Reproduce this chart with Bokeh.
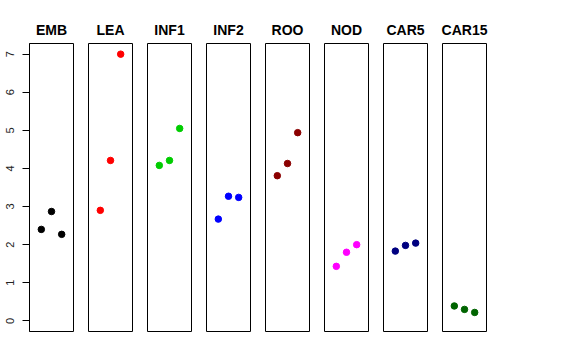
from bokeh.plotting import figure
from bokeh.layouts import row
from bokeh.models import Range1d, FixedTicker, ColumnDataSource
from bokeh.embed import file_html
from bokeh.resources import INLINE

groups = ["EMB", "LEA", "INF1", "INF2", "ROO", "NOD", "CAR5", "CAR15"]
colors = ["#000000", "#FF0000", "#00CD00", "#0000FF", "#8B0000", "#FF00FF", "#000080", "#006400"]
replicate = [1, 2, 3]
values = [
    [2.40, 2.87, 2.27],
    [2.90, 4.21, 7.00],
    [4.08, 4.21, 5.05],
    [2.67, 3.27, 3.24],
    [3.81, 4.13, 4.94],
    [1.43, 1.80, 2.00],
    [1.83, 1.98, 2.04],
    [0.39, 0.30, 0.22],
]
y_ticks = [0, 1, 2, 3, 4, 5, 6, 7]

FONT = "Liberation Sans"
figs = []
for i, (g, c, v) in enumerate(zip(groups, colors, values)):
    first = i == 0
    left = 29 if first else 7
    p = figure(width=left + 44 + 8, height=341, output_backend="svg", toolbar_location=None,
               x_range=Range1d(-0.16, 4.16), y_range=Range1d(-0.28, 7.28),
               min_border_left=left, min_border_right=8, min_border_top=43, min_border_bottom=10,
               title=g)
    p.title.align = "center"
    p.title.vertical_align = "middle"
    p.title.text_font = FONT
    p.title.text_font_size = "14px"
    p.title.text_font_style = "bold"
    p.title.text_color = "black"
    p.outline_line_color = "black"
    p.outline_line_width = 1
    p.xgrid.visible = False
    p.ygrid.visible = False
    p.xaxis.visible = False
    if first:
        ax = p.yaxis[0]
        ax.ticker = FixedTicker(ticks=y_ticks)
        ax.major_label_orientation = "vertical"
        ax.major_label_text_font = FONT
        ax.major_label_text_font_size = "11px"
        ax.major_label_text_color = "#222222"
        ax.major_label_standoff = 8
        ax.major_tick_out = 7
        ax.major_tick_in = 0
        ax.minor_tick_out = 0
        ax.minor_tick_in = 0
        ax.axis_line_color = "black"
        ax.major_tick_line_color = "black"
    else:
        p.yaxis.visible = False
    src = ColumnDataSource(dict(x=replicate, y=v))
    p.scatter("x", "y", source=src, size=6.5, color=c)
    figs.append(p)

layout = row(*figs, spacing=0)
open("out.html", "w").write(file_html(layout, INLINE))
